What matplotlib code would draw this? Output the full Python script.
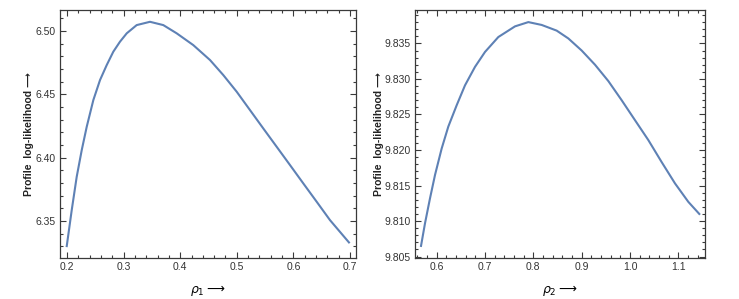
import matplotlib
matplotlib.use("Agg")
import matplotlib.pyplot as plt
from matplotlib.ticker import MultipleLocator, FormatStrFormatter

# values
rho1 = [0.1995, 0.2083, 0.2171, 0.2260, 0.2348, 0.2465, 0.2583, 0.2701, 0.2818,
        0.2936, 0.3055, 0.3231, 0.3466, 0.3701, 0.3938, 0.4231, 0.4527, 0.4762,
        0.4998, 0.5233, 0.5468, 0.5705, 0.5940, 0.6175, 0.6412, 0.6647, 0.6982]
ll1 = [6.3302, 6.3586, 6.3849, 6.4060, 6.4244, 6.4455, 6.4613, 6.4731, 6.4837,
       6.4916, 6.4982, 6.5047, 6.5073, 6.5047, 6.4982, 6.4889, 6.4771, 6.4652,
       6.4521, 6.4376, 6.4231, 6.4086, 6.3942, 6.3797, 6.3652, 6.3507, 6.3331]

rho2 = [0.5676, 0.5759, 0.5862, 0.5966, 0.6103, 0.6241, 0.6414, 0.6586, 0.6793,
        0.7000, 0.7276, 0.7621, 0.7897, 0.8172, 0.8483, 0.8724, 0.9000, 0.9276,
        0.9552, 0.9828, 1.0103, 1.0379, 1.0655, 1.0931, 1.1207, 1.1434]
ll2 = [9.8065, 9.8097, 9.8132, 9.8165, 9.8202, 9.8233, 9.8263, 9.8291, 9.8317,
       9.8338, 9.8359, 9.8374, 9.8380, 9.8376, 9.8368, 9.8357, 9.8340, 9.8320,
       9.8297, 9.8270, 9.8242, 9.8214, 9.8183, 9.8153, 9.8127, 9.8110]

plt.rcParams["font.family"] = ["Liberation Sans", "DejaVu Sans"]
plt.rcParams["mathtext.fontset"] = "dejavusans"

line_color = "#5E81B5"
frame_color = "#3a3a3a"

fig = plt.figure(figsize=(7.39, 2.99), dpi=100)
ax1 = fig.add_axes([0.0812, 0.1371, 0.4005, 0.8294])
ax2 = fig.add_axes([0.5616, 0.1371, 0.3924, 0.8294])

def style(ax, xmaj, xmin, ymaj, ymin, yfmt, xfmt):
    ax.xaxis.set_major_locator(MultipleLocator(xmaj))
    ax.xaxis.set_minor_locator(MultipleLocator(xmin))
    ax.yaxis.set_major_locator(MultipleLocator(ymaj))
    ax.yaxis.set_minor_locator(MultipleLocator(ymin))
    ax.yaxis.set_major_formatter(FormatStrFormatter(yfmt))
    ax.xaxis.set_major_formatter(FormatStrFormatter(xfmt))
    ax.tick_params(which="both", direction="in", top=True, right=True,
                   color=frame_color, width=0.8)
    ax.tick_params(which="major", length=4, labelsize=7.5, labelcolor="#333333", pad=3)
    ax.tick_params(which="minor", length=2)
    for s in ax.spines.values():
        s.set_color(frame_color)
        s.set_linewidth(0.9)

ax1.plot(rho1, ll1, color=line_color, lw=1.5)
ax1.set_xlim(0.1876, 0.7106)
ax1.set_ylim(6.3208, 6.5166)
style(ax1, 0.1, 0.02, 0.05, 0.01, "%.2f", "%.1f")
ax1.set_xlabel(r"$\rho_1 \longrightarrow$", fontsize=9, labelpad=8)
ax1.set_ylabel("Profile  log-likelihood ⟶", fontsize=7.5, fontweight="bold",
               color="#222222")
ax1.yaxis.set_label_coords(-0.088, 0.5)

ax2.plot(rho2, ll2, color=line_color, lw=1.5)
ax2.set_xlim(0.5552, 1.1552)
ax2.set_ylim(9.8048, 9.8397)
style(ax2, 0.1, 0.02, 0.005, 0.001, "%.3f", "%.1f")
ax2.set_xlabel(r"$\rho_2 \longrightarrow$", fontsize=9, labelpad=8)
ax2.set_ylabel("Profile  log-likelihood ⟶", fontsize=7.5, fontweight="bold",
               color="#222222")
ax2.yaxis.set_label_coords(-0.107, 0.5)

fig.savefig("out.png", dpi=100)
